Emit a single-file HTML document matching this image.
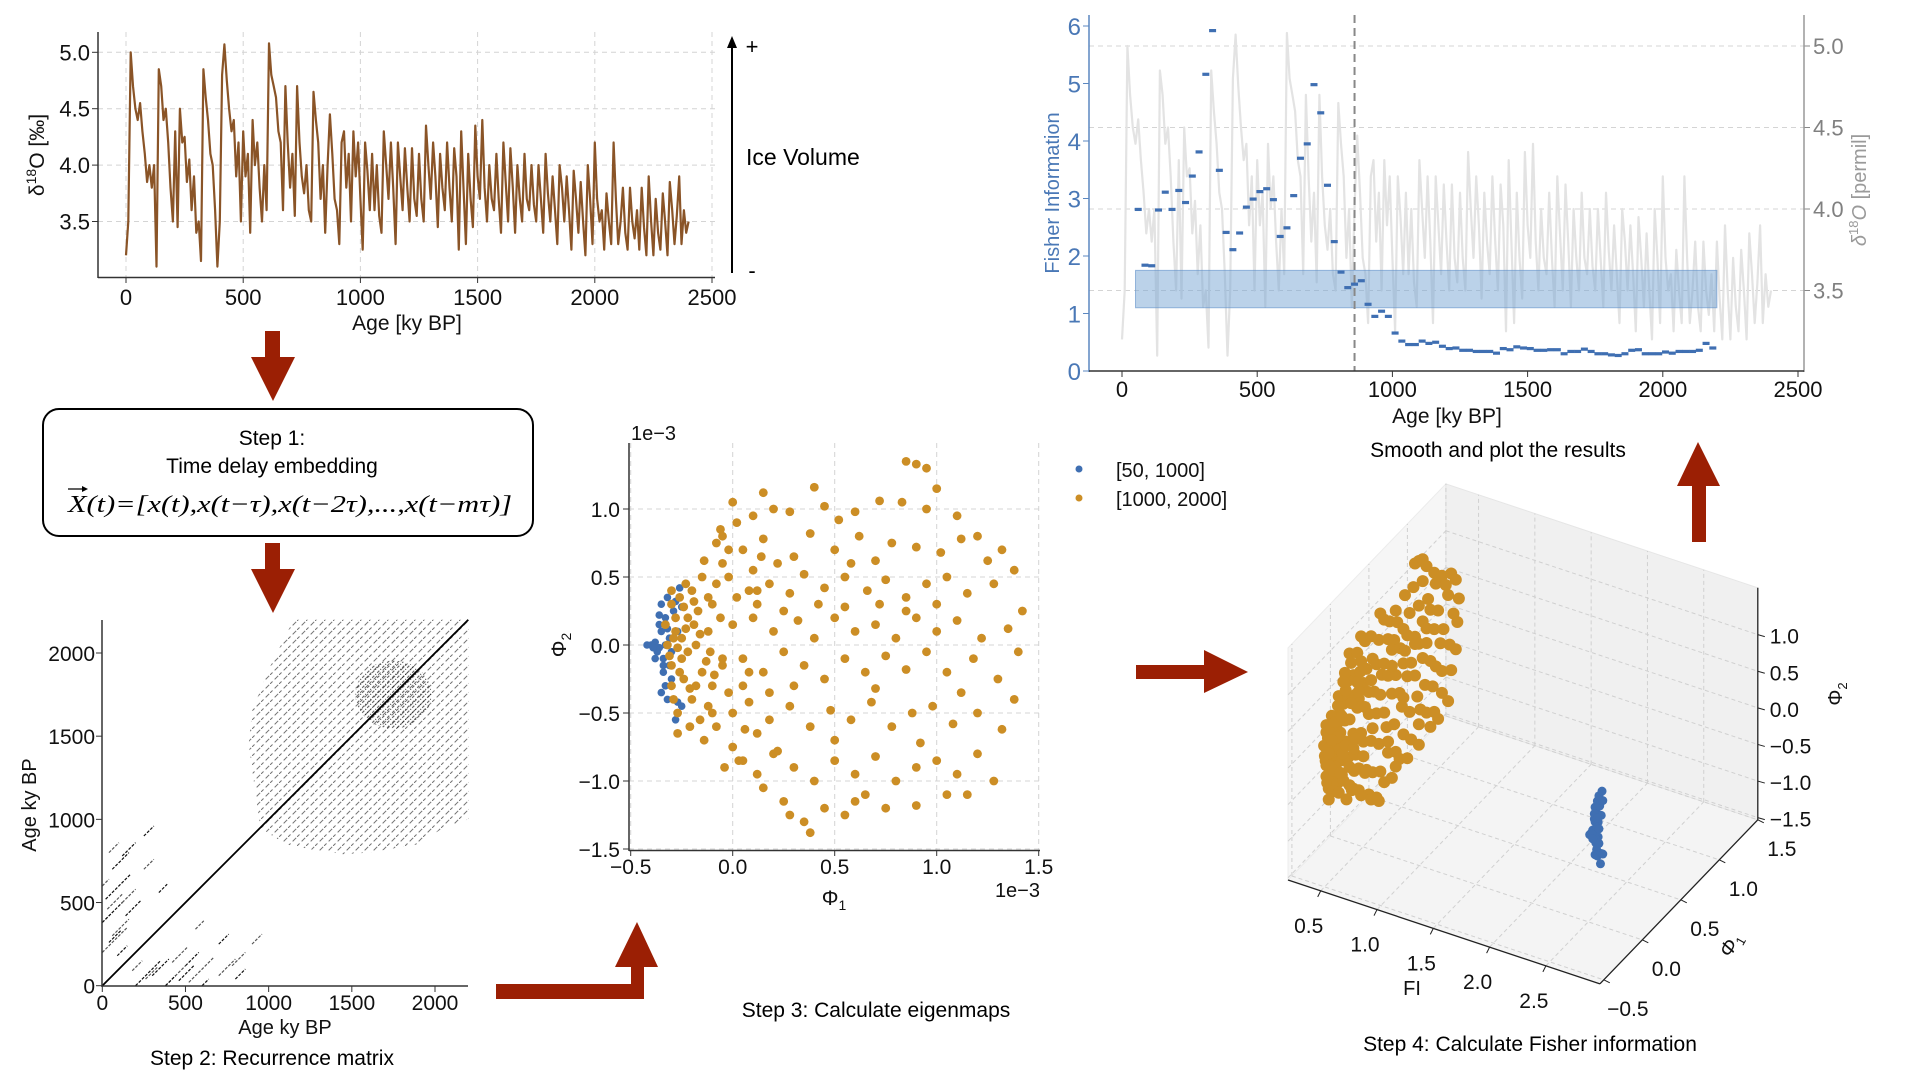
<!DOCTYPE html>
<html><head><meta charset="utf-8"><title>Fisher information workflow</title>
<style>
html,body{margin:0;padding:0;background:#fff;}
svg{display:block;font-family:"Liberation Sans",Arial,sans-serif;}
</style></head>
<body>
<svg id="fig" width="1920" height="1080" viewBox="0 0 1920 1080">
<defs>
<pattern id="rpHatch" patternUnits="userSpaceOnUse" width="9" height="9">
<path d="M-1,10 L10,-1" stroke="#000" stroke-width="1" stroke-dasharray="5,3"/>
</pattern>
<pattern id="rpHatchDense" patternUnits="userSpaceOnUse" width="5" height="5">
<path d="M-1,6 L6,-1" stroke="#000" stroke-width="1.1" stroke-dasharray="3,1.5"/>
</pattern>
</defs>
</svg>
<script>
// ---------------- DATA ----------------
const d18oAge = [0,10,20,30,40,50,60,70,80,90,100,110,120,130,140,150,160,170,180,190,200,210,220,230,240,250,260,270,280,290,300,310,320,330,340,350,360,370,380,390,400,410,420,430,440,450,460,470,480,490,500,510,520,530,540,550,560,570,580,590,600,610,620,630,640,650,660,670,680,690,700,710,720,730,740,750,760,770,780,790,800,810,820,830,840,850,860,870,880,890,900,910,920,930,940,950,960,970,980,990,1000,1010,1020,1030,1040,1050,1060,1070,1080,1090,1100,1110,1120,1130,1140,1150,1160,1170,1180,1190,1200,1210,1220,1230,1240,1250,1260,1270,1280,1290,1300,1310,1320,1330,1340,1350,1360,1370,1380,1390,1400,1410,1420,1430,1440,1450,1460,1470,1480,1490,1500,1510,1520,1530,1540,1550,1560,1570,1580,1590,1600,1610,1620,1630,1640,1650,1660,1670,1680,1690,1700,1710,1720,1730,1740,1750,1760,1770,1780,1790,1800,1810,1820,1830,1840,1850,1860,1870,1880,1890,1900,1910,1920,1930,1940,1950,1960,1970,1980,1990,2000,2010,2020,2030,2040,2050,2060,2070,2080,2090,2100,2110,2120,2130,2140,2150,2160,2170,2180,2190,2200,2210,2220,2230,2240,2250,2260,2270,2280,2290,2300,2310,2320,2330,2340,2350,2360,2370,2380,2390,2400];
const d18oVal = [3.2,3.5,5.0,4.7,4.5,4.4,4.55,4.3,4.1,3.85,4.0,3.8,4.0,3.1,4.85,4.7,4.4,4.5,4.2,3.8,3.5,4.3,3.45,4.5,4.2,4.25,3.85,4.05,3.6,3.9,3.4,3.5,3.15,4.85,4.6,4.4,4.1,4.0,3.6,3.1,3.5,4.8,5.07,4.75,4.5,4.3,4.4,3.9,4.2,3.5,4.3,3.9,4.1,3.4,4.4,4.0,4.2,3.8,3.5,4.0,3.6,5.08,4.8,4.7,4.6,4.3,4.2,3.6,4.7,4.2,3.8,4.1,3.55,4.7,4.2,3.9,3.75,4.0,3.6,3.5,4.65,4.4,4.2,3.7,4.0,3.4,4.0,4.45,4.1,3.7,3.6,3.3,4.2,4.3,3.8,4.1,3.5,4.3,3.9,4.2,3.7,3.25,4.2,3.95,3.6,4.1,3.6,4.0,3.55,3.4,4.3,4.0,3.7,4.2,3.8,3.3,4.2,3.9,3.6,4.15,3.8,3.5,4.15,3.7,3.55,4.1,3.7,3.5,4.35,4.0,3.7,4.2,3.9,3.45,4.1,3.8,3.6,4.2,3.8,3.5,4.15,3.9,3.25,4.3,3.8,3.3,4.1,3.7,3.45,4.35,3.9,3.7,4.4,3.8,3.5,4.0,3.7,3.6,4.1,3.7,3.4,4.2,3.85,3.5,4.15,3.8,3.4,4.0,3.7,3.5,4.1,3.7,3.6,4.0,3.65,3.5,4.0,3.7,3.4,4.1,3.75,3.5,3.9,3.6,3.3,4.0,3.8,3.5,3.9,3.6,3.25,3.95,3.7,3.4,3.85,3.5,3.2,4.0,3.7,3.3,4.2,3.7,3.5,3.6,3.25,3.75,3.5,3.3,4.2,3.7,3.3,3.5,3.8,3.4,3.25,3.8,3.5,3.35,3.6,3.25,3.8,3.45,3.2,3.9,3.5,3.2,3.7,3.4,3.25,3.75,3.5,3.2,3.85,3.6,3.3,3.55,3.9,3.3,3.6,3.4,3.5];
const p1XTicks = [0,500,1000,1500,2000,2500];
const p1YTicks = [3.5,4.0,4.5,5.0];

const fiAge = [60,85,110,135,160,185,210,235,260,285,310,335,360,385,410,435,460,485,510,535,560,585,610,635,660,685,710,735,760,785,810,835,860,885,910,935,960,985,1010,1035,1060,1085,1110,1135,1160,1185,1210,1235,1260,1285,1310,1335,1360,1385,1410,1435,1460,1485,1510,1535,1560,1585,1610,1635,1660,1685,1710,1735,1760,1785,1810,1835,1860,1885,1910,1935,1960,1985,2010,2035,2060,2085,2110,2135,2160,2185];
const fiVal = [2.81,1.84,1.83,2.80,3.11,2.81,3.14,2.93,3.39,3.81,5.16,5.92,3.49,2.41,2.11,2.40,2.85,2.99,3.12,3.17,2.98,2.34,2.49,3.05,3.70,3.95,4.98,4.49,3.23,2.25,1.72,1.45,1.51,1.57,1.16,0.95,1.04,0.95,0.66,0.52,0.46,0.46,0.52,0.48,0.50,0.43,0.39,0.40,0.36,0.36,0.34,0.34,0.34,0.31,0.39,0.37,0.42,0.40,0.39,0.36,0.36,0.37,0.37,0.30,0.34,0.34,0.38,0.34,0.30,0.30,0.28,0.27,0.30,0.36,0.37,0.30,0.30,0.30,0.33,0.31,0.34,0.34,0.34,0.36,0.48,0.40];
const fiBand = [50,2200,1.1,1.75];
const fiTransition = 860;
const fiXTicks = [0,500,1000,1500,2000,2500];
const fiYTicks = [0,1,2,3,4,5,6];
const fiRTicks = [3.5,4.0,4.5,5.0];

const rpTicks = [0,500,1000,1500,2000];
const rpSegX = [0,20,60,120,200,300,380,500,700,140,250,600,800,40,340,460,90];
const rpSegY = [380,520,700,780,0,60,0,120,250,420,900,0,40,260,560,30,180];
const rpSegLen = [120,150,100,80,150,100,60,80,60,90,60,40,60,70,50,90,60];
const rpRegionX = [880,900,1000,1100,1150,2200,2200,2050,1900,1600,1450,1250,1100,950];
const rpRegionY = [1450,1650,1900,2100,2200,2200,1000,950,850,800,790,820,850,950];

const blueX = [-0.42,-0.40,-0.38,-0.36,-0.35,-0.34,-0.33,-0.35,-0.32,-0.30,-0.34,-0.33,-0.35,-0.30,-0.31,-0.37,-0.36,-0.32,-0.27,-0.25,-0.28,-0.29,-0.31,-0.33,-0.39,-0.28,-0.25,-0.30,-0.26,-0.27,-0.36,-0.34,-0.38,-0.32];
const blueY = [0.0,0.0,0.02,-0.02,0.10,-0.10,0.20,0.30,0.35,0.40,-0.20,-0.30,-0.35,-0.25,0.05,-0.05,0.15,-0.40,-0.42,-0.45,-0.55,0.25,-0.15,0.0,-0.02,0.32,0.28,-0.05,0.42,0.10,0.22,-0.15,-0.10,0.12];
const orangeX = [-0.30,-0.28,-0.25,-0.22,-0.30,-0.27,-0.20,-0.18,-0.15,-0.24,-0.32,-0.30,-0.26,-0.20,-0.17,-0.12,-0.28,-0.22,-0.33,-0.29,-0.16,-0.10,-0.12,-0.25,-0.19,-0.31,-0.21,-0.14,-0.08,-0.05,-0.23,-0.27,-0.10,-0.06,-0.02,-0.15,-0.18,-0.30,-0.26,-0.11,-0.24,-0.21,-0.29,-0.16,-0.13,-0.27,-0.19,-0.23,-0.09,-0.14,
0.85,0.90,0.95,0.15,0.40,1.00,0.00,0.10,0.20,0.28,0.45,0.60,0.72,0.83,0.95,1.10,0.52,1.20,
-0.05,0.05,0.15,0.30,0.38,0.50,0.62,0.70,0.78,0.90,1.02,1.12,1.25,1.32,0.22,0.58,
-0.02,0.08,0.18,0.28,0.35,0.45,0.55,0.66,0.75,0.85,0.95,1.05,1.15,1.28,1.38,0.12,0.42,0.72,1.00,
0.00,0.10,0.20,0.32,0.40,0.50,0.60,0.70,0.80,0.90,1.00,1.10,1.22,1.35,1.42,0.25,0.55,0.85,
-0.05,0.05,0.15,0.25,0.35,0.45,0.55,0.65,0.75,0.85,0.95,1.05,1.18,1.30,1.40,0.30,0.70,1.12,
0.00,0.08,0.18,0.28,0.38,0.48,0.58,0.68,0.78,0.88,0.98,1.08,1.20,1.32,1.38,0.12,0.50,0.92,
0.05,0.12,0.20,0.30,0.40,0.50,0.60,0.70,0.80,0.90,1.00,1.10,1.20,1.28,0.15,0.65,1.05,
0.25,0.35,0.45,0.55,0.38,0.75,0.90,0.28,0.60,1.15,
-0.05,-0.08,0.00,-0.10,-0.12,0.02,0.05,0.10,0.08,0.18,-0.02,0.03,-0.06,0.06,0.12,-0.04,0.14,0.22,0.02,-0.08];
const orangeY = [0.30,0.10,-0.10,0.20,-0.30,-0.50,0.40,0.00,-0.20,-0.25,0.00,-0.15,0.35,-0.40,0.25,0.10,0.20,-0.05,0.15,-0.40,-0.55,-0.30,0.35,0.05,0.15,-0.08,-0.60,-0.70,0.45,-0.10,0.45,-0.65,-0.50,0.20,-0.35,0.50,-0.30,0.40,-0.20,-0.05,0.28,-0.32,0.05,0.08,-0.12,-0.02,0.32,0.12,-0.22,0.62,
1.35,1.33,1.30,1.12,1.16,1.15,1.05,0.95,1.00,0.98,1.02,0.98,1.06,1.05,1.00,0.95,0.92,0.80,
0.80,0.70,0.78,0.65,0.82,0.70,0.80,0.62,0.75,0.72,0.68,0.78,0.62,0.70,0.60,0.60,
0.50,0.40,0.45,0.38,0.52,0.42,0.50,0.40,0.48,0.35,0.45,0.50,0.38,0.45,0.55,0.30,0.30,0.30,0.30,
0.15,0.20,0.10,0.18,0.05,0.20,0.10,0.15,0.05,0.20,0.10,0.18,0.05,0.12,0.25,0.25,0.28,0.25,
-0.15,-0.10,-0.20,-0.05,-0.15,-0.25,-0.10,-0.20,-0.08,-0.18,-0.05,-0.20,-0.10,-0.25,-0.05,-0.30,-0.32,-0.35,
-0.50,-0.42,-0.55,-0.45,-0.60,-0.48,-0.55,-0.42,-0.60,-0.50,-0.45,-0.58,-0.50,-0.62,-0.40,-0.65,-0.70,-0.72,
-0.85,-0.95,-0.80,-0.90,-1.00,-0.85,-0.95,-0.82,-1.00,-0.90,-0.85,-0.95,-0.80,-1.00,-1.05,-1.10,-1.10,
-1.15,-1.30,-1.20,-1.25,-1.38,-1.20,-1.18,-1.25,-1.15,-1.10,
0.60,-0.60,-0.75,0.30,-0.45,0.35,-0.30,0.55,-0.20,-0.35,0.70,-0.85,0.85,-0.62,0.40,-0.90,0.65,-0.78,0.90,0.75];
const scXTicks = [-0.5,0.0,0.5,1.0,1.5];
const scYTicks = [-1.5,-1.0,-0.5,0.0,0.5,1.0];

const fiOrange = 0.38;
const fiBlue = 2.8;
const d3FiTicks = [0.5,1.0,1.5,2.0,2.5];
const d3P1Ticks = [-0.5,0.0,0.5,1.0,1.5];
const d3P2Ticks = [-1.5,-1.0,-0.5,0.0,0.5,1.0];

// ---------------- HELPERS ----------------
const NS = 'http://www.w3.org/2000/svg';
const svg = document.getElementById('fig');
function mk(tag, attrs, parent){const e=document.createElementNS(NS,tag);for(const k in attrs)e.setAttribute(k,attrs[k]);(parent||svg).appendChild(e);return e;}
function txt(s, attrs, parent){const e=mk('text',attrs,parent);e.textContent=s;return e;}
function grp(){return mk('g',{});}
const BROWN='#8a5427', ORANGE='#cc8e25', BLUE='#3f6fb2', RED='#9b1f04', GRID='#d4d4d4';

// ---------------- PANEL 1: d18O series ----------------
const g1 = grp();


function p1x(a){return 126 + a*(586/2500);}
function p1y(v){return 52.3 + (5.0-v)*112.8;}
p1XTicks.forEach(t=>{
  const l=mk('line',{x1:p1x(t),x2:p1x(t),y1:32,y2:277,stroke:GRID,'stroke-dasharray':'5,4','stroke-width':1},g1);
  
  
  mk('line',{x1:p1x(t),x2:p1x(t),y1:277,y2:283,stroke:'#333'},g1);
  const tl=txt(String(t),{x:p1x(t),y:305,'font-size':22,'text-anchor':'middle',fill:'#111'},g1);
  
  
});
p1YTicks.forEach(t=>{
  const l=mk('line',{x1:98,x2:715,y1:p1y(t),y2:p1y(t),stroke:GRID,'stroke-dasharray':'5,4','stroke-width':1},g1);
  
  
  mk('line',{x1:92,x2:98,y1:p1y(t),y2:p1y(t),stroke:'#333'},g1);
  const tl=txt(t.toFixed(1),{x:90,y:p1y(t)+8,'font-size':22,'text-anchor':'end',fill:'#111'},g1);
  
  
});
mk('line',{x1:98,x2:98,y1:32,y2:278,stroke:'#333','stroke-width':1.5},g1);
mk('line',{x1:98,x2:715,y1:277.5,y2:277.5,stroke:'#333','stroke-width':1.5},g1);
let d1='';
d18oAge.forEach((a,i)=>{d1+=(i?'L':'M')+p1x(a).toFixed(1)+','+p1y(d18oVal[i]).toFixed(1);});
const ln1=mk('path',{d:d1,fill:'none',stroke:BROWN,'stroke-width':2.2,'stroke-linejoin':'round'},g1);


const yl1=txt('',{transform:'translate(44,155) rotate(-90)','font-size':21,'text-anchor':'middle',fill:'#111'},g1);
yl1.innerHTML='δ<tspan dy="-8" font-size="14">18</tspan><tspan dy="8">O [‰]</tspan>';


const xl1=txt('Age [ky BP]',{x:407,y:330,'font-size':21,'text-anchor':'middle',fill:'#111'},g1);



// Ice volume arrow
const iv=grp();


mk('line',{x1:732,x2:732,y1:46,y2:273,stroke:'#000','stroke-width':2},iv);
mk('polygon',{points:'732,36 727,48 737,48',fill:'#000'},iv);
txt('+',{x:752,y:54,'font-size':22,fill:'#000','text-anchor':'middle'},iv);
txt('-',{x:752,y:278,'font-size':22,fill:'#000','text-anchor':'middle'},iv);
txt('Ice Volume',{x:746,y:165,'font-size':23,fill:'#000'},iv);

// ---------------- ARROWS ----------------
function arrow(name, shaft, head){
  const g=grp();
  
  
  shaft.forEach(r=>mk('rect',{x:r[0],y:r[1],width:r[2],height:r[3],fill:RED},g));
  mk('polygon',{points:head,fill:RED},g);
}
arrow('arrow-to-step1',[[265,331,15,27]],'251,357 295,357 273,401');
arrow('arrow-to-step2',[[265,543,15,27]],'251,569 295,569 273,613');
arrow('arrow-to-step3',[[496,984,148,15],[631,966,13,33]],'615,967 658,967 637,922');
arrow('arrow-to-step4',[[1136,665,68,14]],'1204,650 1204,693 1248,672');
arrow('arrow-to-results',[[1692,485,14,57]],'1698,442 1677,486 1720,486');

// ---------------- STEP 1 BOX ----------------
const sb=grp();


mk('rect',{x:43,y:409,width:490,height:127,rx:16,ry:16,fill:'#fff',stroke:'#000','stroke-width':2},sb);
txt('Step 1:',{x:272,y:445,'font-size':21,'text-anchor':'middle',fill:'#000'},sb);
txt('Time delay embedding',{x:272,y:473,'font-size':21,'text-anchor':'middle',fill:'#000'},sb);
const fm=txt('X(t)=[x(t),x(t−τ),x(t−2τ),...,x(t−mτ)]',{x:68,y:512,'font-size':24,'font-family':'"Liberation Serif",serif','font-style':'italic',fill:'#000',textLength:444,lengthAdjust:'spacingAndGlyphs'},sb);


mk('line',{x1:68,x2:86,y1:489,y2:489,stroke:'#000','stroke-width':1.3},sb);
mk('polygon',{points:'88,489 82,486 82,492',fill:'#000'},sb);

// ---------------- RECURRENCE MATRIX ----------------
const g2=grp();


function rx(a){return 102.3 + a*(332.7/2000);}
function ry(a){return 985.7 - a*(332.7/2000);}
let poly='';
rpRegionX.forEach((x,i)=>{poly+=rx(x).toFixed(1)+','+ry(rpRegionY[i]).toFixed(1)+' ';});
const reg=mk('polygon',{points:poly,fill:'url(#rpHatch)',opacity:0.55},g2);


const blob=mk('ellipse',{cx:rx(1750),cy:ry(1750),rx:38,ry:34,fill:'url(#rpHatchDense)',opacity:0.6},g2);


rpSegX.forEach((x,i)=>{
  const s=mk('line',{x1:rx(x),y1:ry(rpSegY[i]),x2:rx(x+rpSegLen[i]),y2:ry(rpSegY[i]+rpSegLen[i]),stroke:'#111','stroke-width':1.2,'stroke-dasharray':'3,1.5'},g2);
  
  
  const s2=mk('line',{x1:rx(rpSegY[i]),y1:ry(x),x2:rx(rpSegY[i]+rpSegLen[i]),y2:ry(x+rpSegLen[i]),stroke:'#111','stroke-width':1.2,'stroke-dasharray':'3,1.5',opacity:0.7},g2);
  
  
});
const diag=mk('line',{x1:rx(0),y1:ry(0),x2:rx(2200),y2:ry(2200),stroke:'#000','stroke-width':1.8},g2);


mk('line',{x1:102,x2:102,y1:620,y2:987,stroke:'#333','stroke-width':1.5},g2);
mk('line',{x1:102,x2:468,y1:986,y2:986,stroke:'#333','stroke-width':1.5},g2);
rpTicks.forEach(t=>{
  mk('line',{x1:rx(t),x2:rx(t),y1:986,y2:992,stroke:'#333'},g2);
  const a=txt(String(t),{x:rx(t),y:1010,'font-size':21,'text-anchor':'middle',fill:'#111'},g2);
  
  
  mk('line',{x1:96,x2:102,y1:ry(t),y2:ry(t),stroke:'#333'},g2);
  const b=txt(String(t),{x:95,y:ry(t)+8,'font-size':21,'text-anchor':'end',fill:'#111'},g2);
  
  
});
const rxl=txt('Age ky BP',{x:285,y:1034,'font-size':20,'text-anchor':'middle',fill:'#111'},g2);


const ryl=txt('Age ky BP',{transform:'translate(36,805) rotate(-90)','font-size':20,'text-anchor':'middle',fill:'#111'},g2);


const s2t=txt('Step 2: Recurrence matrix',{x:272,y:1065,'font-size':21,'text-anchor':'middle',fill:'#000'},g2);



// ---------------- EIGENMAP SCATTER ----------------
const g3=grp();


function sx(v){return 732.7 + v*204;}
function sy(v){return 645 - v*136;}
scXTicks.forEach(t=>{
  const l=mk('line',{x1:sx(t),x2:sx(t),y1:443,y2:850,stroke:GRID,'stroke-dasharray':'5,4'},g3);
  
  
  mk('line',{x1:sx(t),x2:sx(t),y1:850,y2:856,stroke:'#333'},g3);
  const a=txt(t.toFixed(1).replace('-','−'),{x:sx(t),y:874,'font-size':21,'text-anchor':'middle',fill:'#111'},g3);
  
  
});
scYTicks.forEach(t=>{
  const l=mk('line',{x1:629,x2:1040,y1:sy(t),y2:sy(t),stroke:GRID,'stroke-dasharray':'5,4'},g3);
  
  
  mk('line',{x1:623,x2:629,y1:sy(t),y2:sy(t),stroke:'#333'},g3);
  const a=txt(t.toFixed(1).replace('-','−'),{x:620,y:sy(t)+8,'font-size':21,'text-anchor':'end',fill:'#111'},g3);
  
  
});
mk('line',{x1:629,x2:629,y1:443,y2:851,stroke:'#333','stroke-width':1.5},g3);
mk('line',{x1:629,x2:1040,y1:850.5,y2:850.5,stroke:'#333','stroke-width':1.5},g3);
blueX.forEach((x,i)=>{
  const c=mk('circle',{cx:sx(x),cy:sy(blueY[i]),r:3.8,fill:BLUE},g3);
  
  
});
orangeX.forEach((x,i)=>{
  const c=mk('circle',{cx:sx(x),cy:sy(orangeY[i]),r:4.4,fill:ORANGE},g3);
  
  
});
const e3a=txt('1e−3',{x:631,y:440,'font-size':20,fill:'#111'},g3);


const e3b=txt('1e−3',{x:1040,y:897,'font-size':20,'text-anchor':'end',fill:'#111'},g3);


const sxl=txt('',{x:834,y:905,'font-size':21,'text-anchor':'middle',fill:'#111'},g3);
sxl.innerHTML='Φ<tspan dy="5" font-size="14">1</tspan>';


const syl=txt('',{transform:'translate(566,645) rotate(-90)','font-size':21,'text-anchor':'middle',fill:'#111'},g3);
syl.innerHTML='Φ<tspan dy="5" font-size="14">2</tspan>';


const s3t=txt('Step 3: Calculate eigenmaps',{x:876,y:1017,'font-size':21,'text-anchor':'middle',fill:'#000'},g3);


// legend
const lg=grp();


const le1=grp();


lg.appendChild(le1);
mk('circle',{cx:1079,cy:469,r:3.5,fill:BLUE},le1);
txt('[50, 1000]',{x:1116,y:477,'font-size':20,fill:'#111'},le1);
const le2=grp();


lg.appendChild(le2);
mk('circle',{cx:1079,cy:498,r:3.5,fill:ORANGE},le2);
txt('[1000, 2000]',{x:1116,y:506,'font-size':20,fill:'#111'},le2);

// ---------------- FISHER INFORMATION ----------------
const g4=grp();


function fx(a){return 1122 + a*(676/2500);}
function fyL(v){return 371 - v*57.5;}
function fyR(v){return 46 + (5.0-v)*163;}
fiRTicks.forEach(t=>{
  const l=mk('line',{x1:1089,x2:1804,y1:fyR(t),y2:fyR(t),stroke:GRID,'stroke-dasharray':'5,4'},g4);
  
  
  mk('line',{x1:1804,x2:1810,y1:fyR(t),y2:fyR(t),stroke:'#888'},g4);
  const a=txt(t.toFixed(1),{x:1813,y:fyR(t)+8,'font-size':22,fill:'#808080'},g4);
  
  
});
let d4='';
d18oAge.forEach((a,i)=>{d4+=(i?'L':'M')+fx(a).toFixed(1)+','+fyR(d18oVal[i]).toFixed(1);});
const ln4=mk('path',{d:d4,fill:'none',stroke:'#e3e3e3','stroke-width':2.2,'stroke-linejoin':'round'},g4);


const band=mk('rect',{x:fx(fiBand[0]),y:fyL(fiBand[3]),width:fx(fiBand[1])-fx(fiBand[0]),height:fyL(fiBand[2])-fyL(fiBand[3]),fill:'rgba(120,165,212,0.5)',stroke:'rgba(90,140,200,0.6)','stroke-width':1},g4);


const vl=mk('line',{x1:fx(fiTransition),x2:fx(fiTransition),y1:15,y2:371,stroke:'#888','stroke-width':2,'stroke-dasharray':'8,5'},g4);


fiAge.forEach((a,i)=>{
  const r=mk('rect',{x:fx(a)-3.5,y:fyL(fiVal[i])-1.6,width:7,height:3.2,fill:BLUE},g4);
  
  
});
mk('line',{x1:1089,x2:1089,y1:15,y2:372,stroke:'#5b87c0','stroke-width':1.5},g4);
mk('line',{x1:1804,x2:1804,y1:15,y2:372,stroke:'#999','stroke-width':1.5},g4);
mk('line',{x1:1089,x2:1804,y1:371,y2:371,stroke:'#333','stroke-width':1.5},g4);
fiXTicks.forEach(t=>{
  mk('line',{x1:fx(t),x2:fx(t),y1:371,y2:377,stroke:'#333'},g4);
  const a=txt(String(t),{x:fx(t),y:397,'font-size':22,'text-anchor':'middle',fill:'#111'},g4);
  
  
});
fiYTicks.forEach(t=>{
  mk('line',{x1:1083,x2:1089,y1:fyL(t),y2:fyL(t),stroke:'#5b87c0'},g4);
  const a=txt(String(t),{x:1081,y:fyL(t)+9,'font-size':24,'text-anchor':'end',fill:'#4a78b6'},g4);
  
  
});
const fyl=txt('Fisher Information',{transform:'translate(1059,193) rotate(-90)','font-size':20,'text-anchor':'middle',fill:'#4a78b6'},g4);


const fyr=txt('',{transform:'translate(1866,190) rotate(-90)','font-size':20,'text-anchor':'middle',fill:'#9a9a9a'},g4);
fyr.innerHTML='<tspan font-style="italic">δ</tspan><tspan dy="-8" font-size="13">18</tspan><tspan dy="8" font-style="italic">O</tspan> [permil]';


const fxl=txt('Age [ky BP]',{x:1447,y:423,'font-size':21,'text-anchor':'middle',fill:'#111'},g4);


const rt=txt('Smooth and plot the results',{x:1498,y:457,'font-size':21,'text-anchor':'middle',fill:'#000'},g4);



// ---------------- 3D SCATTER ----------------
const g5=grp();


const FI0=0.21,FI1=2.98,P10=-0.55,P11=1.5,P20=-1.53,P21=1.64;
function pj(fi,p1,p2){return [1306.75 + fi*112.6 + p1*77, 716.1 + fi*37.5 - p1*80 - p2*73.2];}
function ptsStr(arr){return arr.map(p=>p[0].toFixed(1)+','+p[1].toFixed(1)).join(' ');}
const floor=mk('polygon',{points:ptsStr([pj(FI0,P10,P20),pj(FI1,P10,P20),pj(FI1,P11,P20),pj(FI0,P11,P20)]),fill:'#f4f4f4',stroke:'#ececec'},g5);


const lw=mk('polygon',{points:ptsStr([pj(FI0,P10,P20),pj(FI0,P11,P20),pj(FI0,P11,P21),pj(FI0,P10,P21)]),fill:'#f6f6f6',stroke:'#ececec'},g5);


const bw=mk('polygon',{points:ptsStr([pj(FI0,P11,P20),pj(FI1,P11,P20),pj(FI1,P11,P21),pj(FI0,P11,P21)]),fill:'#f0f0f0',stroke:'#e6e6e6'},g5);


function gl(a,b){const l=mk('line',{x1:a[0],y1:a[1],x2:b[0],y2:b[1],stroke:'#d0d0d0','stroke-dasharray':'4,3','stroke-width':1},g5);}
d3FiTicks.forEach(t=>{gl(pj(t,P10,P20),pj(t,P11,P20));gl(pj(t,P11,P20),pj(t,P11,P21));});
d3P1Ticks.forEach(t=>{gl(pj(FI0,t,P20),pj(FI1,t,P20));gl(pj(FI0,t,P20),pj(FI0,t,P21));});
d3P2Ticks.forEach(t=>{gl(pj(FI0,P10,t),pj(FI0,P11,t));gl(pj(FI0,P11,t),pj(FI1,P11,t));});
function ax(a,b){mk('line',{x1:a[0],y1:a[1],x2:b[0],y2:b[1],stroke:'#222','stroke-width':1.3},g5);}
ax(pj(FI0,P10,P20),pj(FI1,P10,P20));
ax(pj(FI1,P10,P20),pj(FI1,P11,P20));
ax(pj(FI1,P11,P20),pj(FI1,P11,P21));
d3FiTicks.forEach(t=>{
  const p=pj(t,P10,P20);
  mk('line',{x1:p[0],y1:p[1],x2:p[0]-3,y2:p[1]+6,stroke:'#222'},g5);
  const a=txt(t.toFixed(1),{x:p[0]-12,y:p[1]+42,'font-size':21,'text-anchor':'middle',fill:'#111'},g5);
  
  
});
d3P1Ticks.forEach(t=>{
  const p=pj(FI1,t,P20);
  mk('line',{x1:p[0],y1:p[1],x2:p[0]+6,y2:p[1]+3,stroke:'#222'},g5);
  const a=txt(t.toFixed(1).replace('-','−'),{x:p[0]+24,y:p[1]+36,'font-size':21,'text-anchor':'middle',fill:'#111'},g5);
  
  
});
d3P2Ticks.forEach(t=>{
  const p=pj(FI1,P11,t);
  mk('line',{x1:p[0],y1:p[1],x2:p[0]+7,y2:p[1]+2,stroke:'#222'},g5);
  const a=txt(t.toFixed(1).replace('-','−'),{x:p[0]+12,y:p[1]+9,'font-size':21,fill:'#111'},g5);
  
  
});
orangeX.forEach((x,i)=>{
  const p=pj(fiOrange,x,orangeY[i]);
  const c=mk('circle',{cx:p[0],cy:p[1],r:6,fill:ORANGE},g5);
  
  
});
blueX.forEach((x,i)=>{
  const p=pj(fiBlue,x,blueY[i]);
  const c=mk('circle',{cx:p[0],cy:p[1]-20,r:4.5,fill:BLUE},g5);
  
  
});
const t3a=txt('FI',{x:1412,y:995,'font-size':20,'text-anchor':'middle',fill:'#111'},g5);


const t3b=txt('',{transform:'translate(1736,948) rotate(-60)','font-size':20,'text-anchor':'middle',fill:'#111'},g5);
t3b.innerHTML='<tspan font-style="italic">Φ</tspan><tspan dy="5" font-size="13">1</tspan>';


const t3c=txt('',{transform:'translate(1842,694) rotate(-90)','font-size':20,'text-anchor':'middle',fill:'#111'},g5);
t3c.innerHTML='Φ<tspan dy="5" font-size="13">2</tspan>';


const s4t=txt('Step 4: Calculate Fisher information',{x:1530,y:1051,'font-size':21,'text-anchor':'middle',fill:'#000'},g5);


</script>
</body></html>
